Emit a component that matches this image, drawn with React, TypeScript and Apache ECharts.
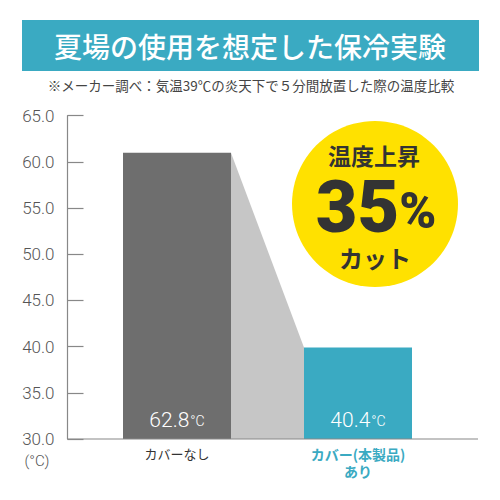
import React, { useEffect, useRef } from "react";
import * as echarts from "echarts";

const categories = ["カバーなし", "カバー(本製品)\nあり"];
const barValues = [61.0, 39.9];
const valueLabels = ["62.8", "40.4"];
const yMin = 30;
const yMax = 65;
const yInterval = 5;
const titleText = "夏場の使用を想定した保冷実験";
const noteText = "※メーカー調べ：気温39℃の炎天下で５分間放置した際の温度比較";
const badgeTop = "温度上昇";
const badgeNum = "35";
const badgeBottom = "カット";

const TEAL = "#3aaac2";
const GRAY_BAR = "#6e6e6e";
const CONNECT = "#c6c6c6";
const BAR_W = 108;
const JP = '"Noto Sans CJK JP", "Noto Sans", sans-serif';
const NUM = 'Roboto, "Noto Sans", sans-serif';

export default function App() {
  const ref = useRef<HTMLDivElement>(null);
  useEffect(() => {
    if (!ref.current) return;
    const chart = echarts.init(ref.current, null, { renderer: "svg" });
    const barColors = [GRAY_BAR, TEAL];
    chart.setOption({
      animation: false,
      backgroundColor: "#ffffff",
      grid: { left: 86.5, right: 51.5, top: 115.7, bottom: 61 },
      xAxis: {
        type: "category",
        data: categories,
        axisLine: { show: false },
        axisTick: { show: false },
        axisLabel: {
          margin: 6,
          interval: 0,
          formatter: (v: string, i: number) =>
            i === 0 ? `{a|${v}}` : v.split("\n").map((s) => `{b|${s}}`).join("\n"),
          rich: {
            a: { fontFamily: JP, fontSize: 13, color: "#333", lineHeight: 17 },
            b: {
              fontFamily: JP,
              fontSize: 14,
              fontWeight: "bold",
              color: TEAL,
              lineHeight: 17,
            },
          },
        },
      },
      yAxis: {
        type: "value",
        min: yMin,
        max: yMax,
        interval: yInterval,
        offset: 19,
        axisLine: { show: true, lineStyle: { color: "#888", width: 1.2 } },
        axisTick: { show: true, inside: true, length: 16, lineStyle: { color: "#888", width: 1.2 } },
        splitLine: { show: false },
        axisLabel: {
          margin: 13,
          fontFamily: NUM,
          fontWeight: 300,
          fontSize: 17,
          color: "#555",
          formatter: (v: number) => v.toFixed(1),
        },
      },
      series: [
        {
          type: "custom",
          z: 1,
          data: [[0, barValues[0]]],
          renderItem: (params: any, api: any) => {
            const half = BAR_W / 2;
            const a = api.coord([0, barValues[0]]);
            const b = api.coord([1, barValues[1]]);
            const base = api.coord([0, yMin])[1];
            return {
              type: "polygon",
              shape: {
                points: [
                  [a[0] + half, a[1]],
                  [b[0] - half, b[1]],
                  [b[0] - half, base],
                  [a[0] + half, base],
                ],
              },
              style: { fill: CONNECT },
            };
          },
        },
        {
          type: "bar",
          z: 2,
          barWidth: BAR_W,
          data: barValues.map((v, i) => ({
            value: v,
            itemStyle: { color: barColors[i] },
            label: {
              show: true,
              position: "insideBottom",
              distance: 9,
              formatter: `{n|${valueLabels[i]}}{u|°C}`,
              rich: {
                n: { fontFamily: NUM, fontWeight: 300, fontSize: 21, color: "#ffffff" },
                u: { fontFamily: NUM, fontWeight: 300, fontSize: 14, color: "#ffffff", padding: [3, 0, 0, 1] },
              },
            },
          })),
        },
      ],
      graphic: [
        {
          type: "rect",
          shape: { x: 22, y: 20, width: 457, height: 51 },
          style: { fill: TEAL },
          z: 10,
        },
        {
          type: "text",
          x: 250,
          y: 46,
          z: 11,
          style: {
            text: titleText,
            fill: "#ffffff",
            font: `500 28px ${JP}`,
            align: "center",
            verticalAlign: "middle",
          },
        },
        {
          type: "text",
          x: 251,
          y: 85,
          z: 11,
          style: {
            text: noteText,
            fill: "#444",
            font: `13.5px ${JP}`,
            align: "center",
            verticalAlign: "middle",
          },
        },
        {
          type: "text",
          x: 37,
          y: 461,
          z: 11,
          style: {
            text: "(°C)",
            fill: "#555",
            font: `300 15px ${NUM}`,
            align: "center",
            verticalAlign: "middle",
          },
        },
        {
          type: "line",
          z: 5,
          shape: { x1: 67.5, y1: 439, x2: 478, y2: 439 },
          style: { stroke: "#888", lineWidth: 1.2 },
        },
        {
          type: "circle",
          z: 10,
          shape: { cx: 375, cy: 204, r: 83 },
          style: { fill: "#ffe100" },
        },
        {
          type: "text",
          x: 374,
          y: 155,
          z: 11,
          style: {
            text: badgeTop,
            fill: "#333",
            font: `bold 23px ${JP}`,
            align: "center",
            verticalAlign: "middle",
          },
        },
        {
          type: "text",
          x: 376,
          y: 207,
          z: 11,
          style: {
            text: `{a|${badgeNum}}{b|%}`,
            align: "center",
            verticalAlign: "middle",
            rich: {
              a: { fontFamily: NUM, fontWeight: 900, fontSize: 72, lineHeight: 56, fill: "#333", color: "#333" },
              b: { fontFamily: NUM, fontWeight: 900, fontSize: 50, lineHeight: 56, fill: "#333", color: "#333", padding: [8, 0, 0, 0] },
            },
          },
        },
        {
          type: "text",
          x: 375,
          y: 257,
          z: 11,
          style: {
            text: badgeBottom,
            fill: "#333",
            font: `bold 24px ${JP}`,
            align: "center",
            verticalAlign: "middle",
          },
        },
      ],
    });
    return () => chart.dispose();
  }, []);
  return <div ref={ref} style={{ width: 500, height: 500, margin: -8 }} />;
}
